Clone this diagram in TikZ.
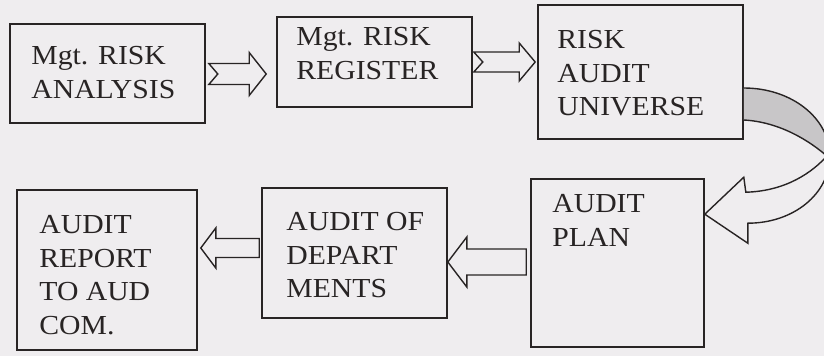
\documentclass[tikz,border=0pt]{standalone}
\usepackage{fontspec}
\setmainfont{Liberation Serif}[FakeStretch=1.08]
\usetikzlibrary{calc}
\definecolor{bgc}{RGB}{239,237,239}
\definecolor{ink}{RGB}{40,36,36}
\definecolor{ribbon}{RGB}{200,198,200}
\newcommand\hollowarrow[6]{%
  \coordinate (hA) at (#1);
  \coordinate (hB) at (#2);
  \coordinate (hH) at ($(hB)!#5!(hA)$);
  \coordinate (hN) at ($(hA)!#6!(hB)$);
  \draw[blockarrow] ($(hA)!#3!90:(hB)$) -- ($(hH)!#3!-90:(hA)$) -- ($(hH)!#4!-90:(hA)$) -- (hB)
     -- ($(hH)!#4!90:(hA)$) -- ($(hH)!#3!90:(hA)$) -- ($(hA)!#3!-90:(hB)$) -- (hN) -- cycle;
}
\tikzset{
  box/.style={draw=ink, line width=1.6pt, inner sep=0pt},
  lbl/.style={anchor=north west, inner sep=0pt, align=left, text=ink,
              font=\fontsize{27.5}{33.5}\selectfont},
  blockarrow/.style={draw=ink, line width=1.4pt, fill=bgc, line join=miter},
  curvearrow/.style={draw=ink, line width=1.4pt, line join=miter},
}
\begin{document}
\begin{tikzpicture}[x=1pt,y=-1pt]
\fill[bgc] (0,0) rectangle (824,356);
\useasboundingbox (0,0) rectangle (824,356);

% boxes
\node[box, minimum width=195pt, minimum height=99pt]  (b1) at (107.5,73.5) {};
\node[box, minimum width=195pt, minimum height=90pt]  (b2) at (374.5,62) {};
\node[box, minimum width=205pt, minimum height=134pt] (b3) at (640.5,72) {};
\node[box, minimum width=173pt, minimum height=168pt] (b4) at (617.5,263) {};
\node[box, minimum width=185pt, minimum height=130pt] (b5) at (354.5,253) {};
\node[box, minimum width=180pt, minimum height=160pt] (b6) at (107,270) {};

% texts
\node[lbl] (t1) at ($(b1.north west)+(22,23)$) {Mgt. RISK\\ANALYSIS};
\node[lbl] (t2) at ($(b2.north west)+(20,11)$) {Mgt. RISK\\REGISTER};
\node[lbl] (t3) at ($(b3.north west)+(20,26)$) {RISK\\AUDIT\\UNIVERSE};
\node[lbl] (t4) at ($(b4.north west)+(22,16)$) {AUDIT\\PLAN};
\node[lbl] (t5) at ($(b5.north west)+(25,25)$) {AUDIT OF\\DEPART\\MENTS};
\node[lbl] (t6) at ($(b6.north west)+(23,26)$) {AUDIT\\REPORT\\TO AUD\\COM.};

% straight hollow arrows
\coordinate (a1t) at ($(b1.east)+(3,0.5)$);
\coordinate (a1h) at ($(a1t -| b2.west)+(-10,0)$);
\hollowarrow{a1t}{a1h}{10.5pt}{21.5pt}{17pt}{9pt}
\coordinate (a2t) at ($(b2.east)+(1,0)$);
\coordinate (a2h) at ($(a2t -| b3.west)+(-2,0)$);
\hollowarrow{a2t}{a2h}{10pt}{19pt}{16pt}{9pt}
\coordinate (a3t) at ($(b4.west)+(-4,-1)$);
\coordinate (a3h) at (a3t -| b5.east);
\hollowarrow{a3t}{a3h}{13pt}{25pt}{19pt}{0pt}
\coordinate (a4t) at ($(b5.west)+(-2,-5)$);
\coordinate (a4h) at ($(a4t -| b6.east)+(3,0)$);
\hollowarrow{a4t}{a4h}{9.5pt}{20pt}{15pt}{0pt}

% curved ribbon arrow from b3 to b4
\coordinate (cu1) at ($(b3.east)+(0,16)$);
\coordinate (cu2) at ($(b3.east)+(0,48)$);
\coordinate (ro) at ($(cu1)+(86,68)$);
\coordinate (ri) at ($(cu2)+(83,36)$);
\coordinate (tip) at ($(b4.north east)+(0,36)$);
\coordinate (hu) at ($(tip)+(39,-37)$);
\coordinate (ib) at ($(tip)+(41,-22)$);
\coordinate (ob) at ($(tip)+(43,9)$);
\coordinate (hl) at ($(tip)+(43,29)$);
\fill[ribbon] (cu1) .. controls +(48,0) and +(0,-37.6) .. (ro) -- (ri)
   .. controls +(-16,-14) and +(37,2) .. (cu2) -- cycle;
\draw[curvearrow] (cu1) .. controls +(48,0) and +(0,-37.6) .. (ro)
   .. controls +(0,37.6) and +(46,0) .. (ob) -- (hl) -- (tip) -- (hu) -- (ib)
   .. controls +(40,-1) and +(-14,16) .. (ri)
   .. controls +(-16,-14) and +(37,2) .. (cu2);
\end{tikzpicture}
\end{document}
